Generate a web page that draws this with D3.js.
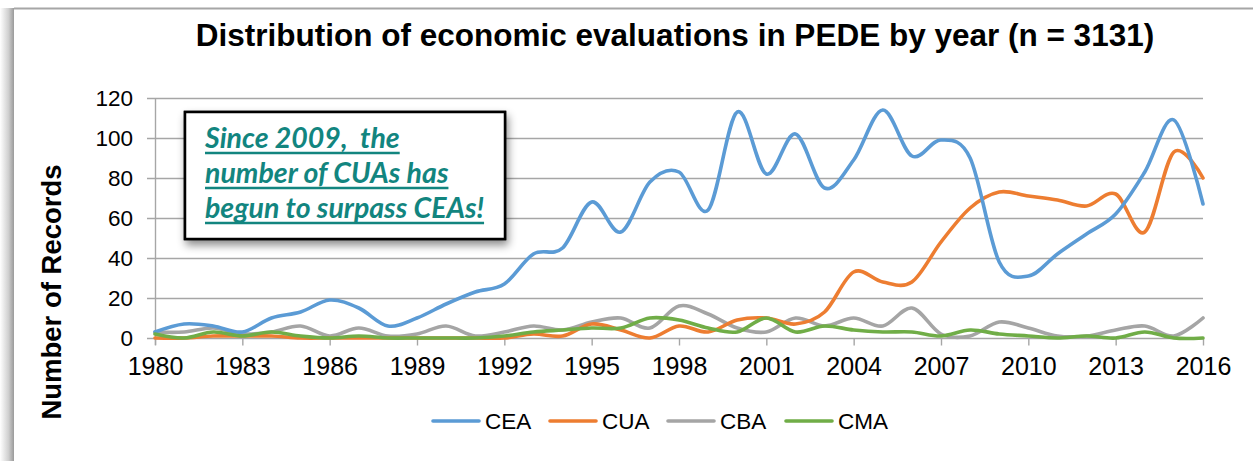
<!DOCTYPE html>
<html><head><meta charset="utf-8">
<script src="https://cdn.jsdelivr.net/npm/d3@7"></script>
<style>
html,body{margin:0;padding:0;background:#fff;}
svg{display:block;}
</style></head>
<body>
<svg id="chart" width="1253" height="461"></svg>
<script>
const years = d3.range(1980, 2017);
const tickYears = [1980,1983,1986,1989,1992,1995,1998,2001,2004,2007,2010,2013,2016];
const yTicks = [0,20,40,60,80,100,120];
const seriesNames = ["CEA","CUA","CBA","CMA"];
const seriesColors = ["#5b9bd5","#ed7d31","#a5a5a5","#70ad47"];
const cea = [3,7,6,3,10,13,19,15,6,10,17,23,27,42,45,68,53,78,83,64,113,82,102,75,89,114,91,99,90,38,31,42,52,62,83,109,67];
const cua = [0,0,1,1,1,0,0,0,0,0,0,0,0,2,1,7,4,0,6,3,9,10,7,13,33,28,28,48,65,73,71,69,66,72,53,93,80];
const cba = [3,3,5,2,3,6,1,5,1,2,6,1,3,6,4,8,10,5,16,12,5,3,10,6,10,6,15,2,1,8,5,1,1,4,6,1,10];
const cma = [2,0,3,1,3,1,0,1,0,0,0,0,1,3,4,5,5,10,9,5,3,10,3,6,4,3,3,1,4,2,1,0,1,0,3,0,0];
const seriesValues = [cea, cua, cba, cma];
const titleText = "Distribution of economic evaluations in PEDE by year (n = 3131)";
const yLabel = "Number of Records";
const noteLines = ["Since 2009,  the", "number of CUAs has", "begun to surpass CEAs!"];

const svg = d3.select("#chart");
const defs = svg.append("defs");
const grad = defs.append("linearGradient").attr("id","lshadow").attr("x1","0").attr("x2","1").attr("y1","0").attr("y2","0");
grad.append("stop").attr("offset","0").attr("stop-color","#ffffff");
grad.append("stop").attr("offset","0.6").attr("stop-color","#d0d0d0");
grad.append("stop").attr("offset","1").attr("stop-color","#9a9a9a");
const f = defs.append("filter").attr("id","shadow").attr("x","-20%").attr("y","-20%").attr("width","140%").attr("height","150%");
f.append("feDropShadow").attr("dx",2).attr("dy",5).attr("stdDeviation",4).attr("flood-color","#000").attr("flood-opacity",0.45);

// outer frame
svg.append("rect").attr("x",0).attr("y",8).attr("width",14).attr("height",461).attr("fill","url(#lshadow)");
svg.append("line").attr("x1",14).attr("x2",1253).attr("y1",8.5).attr("y2",8.5).attr("stroke","#a6a6a6").attr("stroke-width",2);

const x = d3.scaleLinear().domain([1980,2016]).range([155,1203]);
const y = d3.scaleLinear().domain([0,120]).range([338,98]);

// gridlines
svg.append("g").selectAll("line").data(yTicks).join("line")
  .attr("x1",147).attr("x2",1203)
  .attr("y1",d=>y(d)+0.5).attr("y2",d=>y(d)+0.5)
  .attr("stroke","#a6a6a6").attr("stroke-width",1.4);
// y axis line
svg.append("line").attr("x1",155.5).attr("x2",155.5).attr("y1",y(120)).attr("y2",345).attr("stroke","#a6a6a6").attr("stroke-width",1.4);

// y axis labels
const yAxis = d3.axisLeft(y).tickValues(yTicks).tickSize(0).tickPadding(0);
const gy = svg.append("g").attr("transform","translate(133,0)").call(yAxis);
gy.select(".domain").remove();
gy.selectAll("text").attr("font-family","Liberation Sans, Arial, sans-serif").attr("font-size",22.5).attr("fill","#000").attr("dy","0.35em");

// x axis
const xAxis = d3.axisBottom(x).tickValues(tickYears).tickFormat(d3.format("d")).tickSize(7).tickPadding(12);
const gx = svg.append("g").attr("transform","translate(0,338.5)").call(xAxis);
gx.select(".domain").remove();
gx.selectAll("line").attr("stroke","#a6a6a6").attr("stroke-width",1.4);
gx.selectAll("text").attr("font-family","Liberation Sans, Arial, sans-serif").attr("font-size",25).attr("fill","#000");

// lines
const line = d3.line().x((d,i)=>x(years[i])).y(d=>y(d)).curve(d3.curveCardinal.tension(0));
const order = [2,1,0,3];
svg.append("g").selectAll("path").data(order).join("path")
  .attr("d",k=>line(seriesValues[k]))
  .attr("fill","none").attr("stroke",k=>seriesColors[k]).attr("stroke-width",3.6)
  .attr("stroke-linejoin","round").attr("stroke-linecap","round");

// title
svg.append("text").attr("x",675).attr("y",46).attr("text-anchor","middle")
  .attr("font-family","Liberation Sans, Arial, sans-serif").attr("font-weight","bold").attr("font-size",31.5)
  .attr("fill","#000").text(titleText);

// y label
svg.append("text").attr("transform","translate(61,292) rotate(-90)").attr("text-anchor","middle")
  .attr("font-family","Liberation Sans, Arial, sans-serif").attr("font-weight","bold").attr("font-size",27.5)
  .attr("fill","#000").text(yLabel);

// legend
const legX = [433,550,668,786];
const lg = svg.append("g").selectAll("g").data(seriesNames).join("g")
  .attr("transform",(d,i)=>`translate(${legX[i]},421)`);
lg.append("line").attr("x1",0).attr("x2",46).attr("y1",0).attr("y2",0)
  .attr("stroke",(d,i)=>seriesColors[i]).attr("stroke-width",3.6).attr("stroke-linecap","round");
lg.append("text").attr("x",52).attr("y",0).attr("dy","0.35em")
  .attr("font-family","Liberation Sans, Arial, sans-serif").attr("font-size",22.5).attr("fill","#000").text(d=>d);

// annotation box
const note = svg.append("g");
note.append("rect").attr("x",185).attr("y",112).attr("width",320).attr("height",127)
  .attr("fill","#fff").attr("stroke","#000").attr("stroke-width",2.5).attr("filter","url(#shadow)");
note.append("rect").attr("x",185).attr("y",112).attr("width",320).attr("height",127)
  .attr("fill","#fff").attr("stroke","#000").attr("stroke-width",2.5);
const teal = "#12857f";
noteLines.forEach((t,i)=>{
  const by = 148 + i*35;
  const tx = note.append("text").attr("x",205).attr("y",by)
    .attr("font-family","Lato, sans-serif").attr("font-weight","bold").attr("font-style","italic")
    .attr("font-size",28.5).attr("fill",teal).style("white-space","pre").text(t);
  const w = tx.node().getComputedTextLength();
  note.append("line").attr("x1",205).attr("x2",205+w).attr("y1",by+5).attr("y2",by+5)
    .attr("stroke",teal).attr("stroke-width",2.4);
});
</script>
</body></html>
